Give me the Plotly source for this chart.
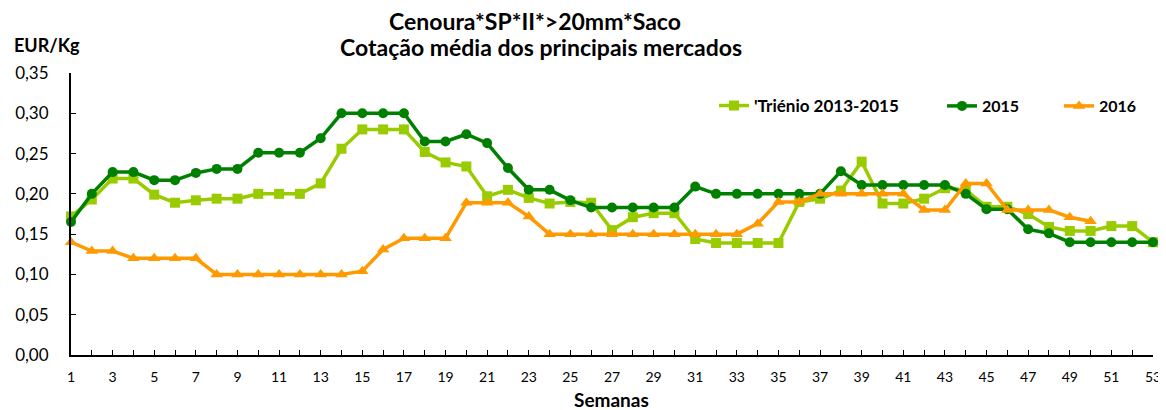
import plotly.graph_objects as go

weeks = list(range(1, 54))
tick_labels = [str(w) for w in range(1, 54, 2)]

trienio = [0.172, 0.193, 0.219, 0.219, 0.199, 0.189, 0.192, 0.194, 0.194, 0.200,
           0.200, 0.200, 0.213, 0.256, 0.280, 0.280, 0.280, 0.252, 0.239, 0.234,
           0.197, 0.205, 0.195, 0.188, 0.190, 0.189, 0.155, 0.171, 0.176, 0.176,
           0.144, 0.139, 0.139, 0.139, 0.139, 0.190, 0.194, 0.204, 0.240, 0.188,
           0.188, 0.194, 0.207, 0.205, 0.184, 0.184, 0.175, 0.159, 0.154, 0.154,
           0.160, 0.160, 0.140]

y2015 = [0.165, 0.200, 0.227, 0.227, 0.217, 0.217, 0.226, 0.231, 0.231, 0.251,
         0.251, 0.251, 0.269, 0.300, 0.300, 0.300, 0.300, 0.265, 0.265, 0.274,
         0.263, 0.232, 0.205, 0.205, 0.192, 0.183, 0.183, 0.183, 0.183, 0.183,
         0.209, 0.200, 0.200, 0.200, 0.200, 0.200, 0.200, 0.228, 0.211, 0.211,
         0.211, 0.211, 0.211, 0.200, 0.181, 0.181, 0.156, 0.151, 0.140, 0.140,
         0.140, 0.140, 0.140]

y2016 = [0.140, 0.129, 0.129, 0.120, 0.120, 0.120, 0.120, 0.100, 0.100, 0.100,
         0.100, 0.100, 0.100, 0.100, 0.104, 0.131, 0.145, 0.145, 0.145, 0.189,
         0.189, 0.189, 0.172, 0.150, 0.150, 0.150, 0.150, 0.150, 0.150, 0.150,
         0.150, 0.150, 0.150, 0.163, 0.190, 0.190, 0.200, 0.200, 0.200, 0.200,
         0.200, 0.180, 0.180, 0.213, 0.213, 0.180, 0.180, 0.180, 0.171, 0.166]

FONT = "Lato"
OFF = 8  # page body margin in the browser
W, H = 1166 - OFF, 410 - OFF
# target pixel positions in the screenshot
PL, PR, PT, PB = 71, 1153, 73, 355
L, T = PL - OFF, PT - OFF
R, B = W - (PR - OFF), H - (PB - OFF)
pw = W - L - R
ph = H - T - B


def px_x(px):
    return (px - OFF - L) / pw


def px_y(py):
    return (H - B - (py - OFF)) / ph


fig = go.Figure()
fig.add_trace(go.Scatter(x=weeks, y=trienio, name="'Triénio 2013-2015", mode="lines+markers",
                         line=dict(color="#99CC00", width=3.5),
                         marker=dict(symbol="square", size=10, color="#99CC00"),
                         cliponaxis=False, legend="legend"))
fig.add_trace(go.Scatter(x=weeks, y=y2015, name="2015", mode="lines+markers",
                         line=dict(color="#008000", width=3.5),
                         marker=dict(symbol="circle", size=10, color="#008000"),
                         cliponaxis=False, legend="legend2"))
fig.add_trace(go.Scatter(x=weeks[:len(y2016)], y=y2016, name="2016", mode="lines+markers",
                         line=dict(color="#FF9900", width=3.5),
                         marker=dict(symbol="triangle-up", size=11, color="#FF9900"),
                         cliponaxis=False, legend="legend3"))


def leg(px, size=16):
    return dict(x=px_x(px), y=px_y(106), xanchor="left", yanchor="middle",
                orientation="h", bgcolor="rgba(0,0,0,0)",
                font=dict(family=FONT, size=size, color="black", weight="bold"))


fig.update_layout(
    width=W, height=H,
    margin=dict(l=L, r=R, t=T, b=B),
    plot_bgcolor="white", paper_bgcolor="white",
    separators=",.",
    showlegend=True,
    font=dict(family=FONT, size=14, color="black"),
    legend=leg(714, 17),
    legend2=leg(942),
    legend3=leg(1059),
    xaxis=dict(range=[1, 53], tickmode="array", tickvals=list(range(1, 54, 2)), ticktext=tick_labels,
               showline=True, linecolor="black", linewidth=2, ticks="inside", ticklen=5,
               tickcolor="black", showgrid=False, zeroline=False, automargin=False,
               ticklabelstandoff=8,
               minor=dict(dtick=1, tick0=1, ticks="inside", ticklen=5, tickcolor="black", showgrid=False),
               tickfont=dict(family=FONT, size=14)),
    yaxis=dict(range=[0, 0.35], dtick=0.05, tickformat=".2f", showline=True, linecolor="black",
               linewidth=2, ticks="inside", ticklen=5, tickcolor="black", showgrid=False,
               zeroline=False, automargin=False, ticklabelstandoff=17,
               tickfont=dict(family=FONT, size=17)),
    annotations=[
        dict(text="<b>Cenoura*SP*II*>20mm*Saco</b>", x=px_x(535), y=px_y(21), xref="paper", yref="paper",
             showarrow=False, xanchor="center", yanchor="middle", font=dict(family=FONT, size=23)),
        dict(text="<b>Cotação média dos principais mercados</b>", x=px_x(541), y=px_y(47), xref="paper",
             yref="paper", showarrow=False, xanchor="center", yanchor="middle", font=dict(family=FONT, size=23)),
        dict(text="<b>EUR/Kg</b>", x=px_x(12), y=px_y(45), xref="paper", yref="paper", showarrow=False,
             xanchor="left", yanchor="middle", font=dict(family=FONT, size=18)),
        dict(text="<b>Semanas</b>", x=px_x(611), y=px_y(399), xref="paper", yref="paper", showarrow=False,
             xanchor="center", yanchor="middle", font=dict(family=FONT, size=19)),
    ],
)

fig.write_html("out.html")
